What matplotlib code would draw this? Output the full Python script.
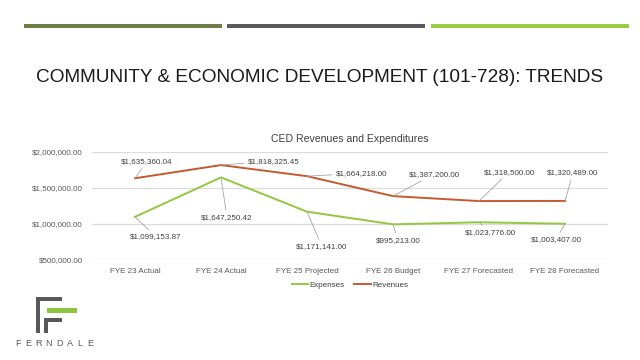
import numpy as np
import matplotlib
matplotlib.use("Agg")
import matplotlib.pyplot as plt
from matplotlib.patches import Rectangle
from matplotlib.ticker import FuncFormatter

plt.rcParams['font.family'] = ['Liberation Sans', 'DejaVu Sans']

# data
years = ["FYE 23 Actual", "FYE 24 Actual", "FYE 25 Projected",
         "FYE 26 Budget", "FYE 27 Forecasted", "FYE 28 Forecasted"]
expenses = [1099153.87, 1647250.42, 1171141.00, 995213.00, 1023776.00, 1003407.00]
revenues = [1635360.04, 1818325.45, 1664218.00, 1387200.00, 1318500.00, 1320489.00]

# label offsets in pixels (dx, dy) for the leader-line callouts
rev_off = [(12, 17), (53, 4), (55, 3), (41, 22), (30, 29), (8, 28)]
exp_off = [(21, -20), (6, -40), (15, -35), (5, -16), (11, -10), (-9, -16)]

W, H = 640, 360
fig = plt.figure(figsize=(6.4, 3.6), dpi=100)
fig.patch.set_facecolor("white")

def fx(x):
    return x / W

def fy(y):
    return 1 - y / H

# three coloured bars along the top of the slide
for x0, x1, c in [(24, 222, "#6e7e46"), (227, 425, "#5b595b"), (431, 629, "#9acd44")]:
    fig.add_artist(Rectangle((fx(x0), fy(28)), fx(x1 - x0), 4 / H,
                             transform=fig.transFigure, color=c, lw=0))

fig.text(fx(320), fy(77), "COMMUNITY & ECONOMIC DEVELOPMENT (101-728): TRENDS",
         ha="center", va="center", fontsize=13.7, color="#1a1a1a")

ax = fig.add_axes([fx(92), fy(260), fx(516), 108 / H])
x = np.arange(len(years))

ax.plot(x, expenses, color="#92c83e", lw=1.4, label="Expenses")
ax.plot(x, revenues, color="#c55a2e", lw=1.4, label="Revenues")

ax.set_xlim(-0.5, len(years) - 0.5)
ax.set_ylim(500000, 2000000)
ax.set_yticks([500000, 1000000, 1500000, 2000000])
ax.yaxis.set_major_formatter(FuncFormatter(lambda v, p: "${:,.2f}".format(v)))
ax.set_xticks(x)
ax.set_xticklabels(years)
ax.tick_params(axis="both", length=0, labelsize=5.8, labelcolor="#595959")
ax.tick_params(axis="x", pad=6)
ax.tick_params(axis="y", pad=6.5)
ax.grid(axis="y", color="#dcdcdc", lw=0.9)
ax.set_axisbelow(True)
for s in ax.spines.values():
    s.set_visible(False)

ax.set_title("CED Revenues and Expenditures", fontsize=7.6, color="#404040", pad=7)

def callouts(vals, offs):
    for i, (v, (dx, dy)) in enumerate(zip(vals, offs)):
        ax.annotate("${:,.2f}".format(v), (i, v), xytext=(dx, dy),
                    textcoords="offset pixels", ha="center", va="center",
                    fontsize=5.8, color="#404040",
                    arrowprops=dict(arrowstyle="-", color="#a6a6a6", lw=0.6,
                                    shrinkA=1, shrinkB=0))

callouts(revenues, rev_off)
callouts(expenses, exp_off)

ax.legend(loc="upper center", bbox_to_anchor=(0.5, -0.13), ncol=2, frameon=False,
          fontsize=5.8, handlelength=2.0, handletextpad=0.2, columnspacing=1.2,
          labelcolor="#404040")

# Ferndale logo, bottom left
gray = "#58585a"
logo = [
    (36, 297, 26, 3.5),   # top bar
    (36, 297, 4, 36),     # stem
    (44, 318, 18, 3.5),   # lower bar
    (44, 318, 3.5, 15),   # lower stem
]
for lx, ly, lw_, lh in logo:
    fig.add_artist(Rectangle((fx(lx), fy(ly + lh)), fx(lw_), lh / H,
                             transform=fig.transFigure, color=gray, lw=0))
fig.add_artist(Rectangle((fx(47), fy(313)), fx(30), 5 / H,
                         transform=fig.transFigure, color="#8cc63f", lw=0))
for k, ch in enumerate("FERNDALE"):
    fig.text(fx(18 + k * 10.3), fy(343), ch, ha="center", va="center",
             fontsize=6.5, color=gray)

fig.savefig("out.png", dpi=100, facecolor="white")
